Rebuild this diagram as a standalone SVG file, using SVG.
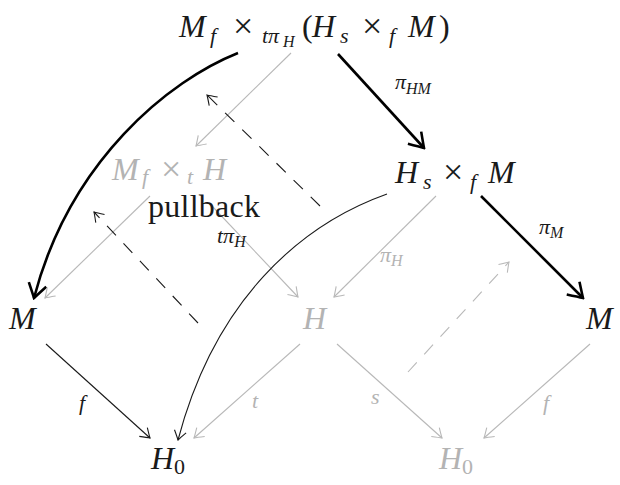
<svg xmlns="http://www.w3.org/2000/svg" width="620" height="485" viewBox="0 0 620 485">
<style>
text{font-family:'Liberation Serif','DejaVu Serif',serif;font-style:italic;font-size:32px;fill:#1a1a1a}
.r{font-style:normal}
.x{font-style:normal;font-size:36px}
.s{font-size:22px}
.ss{font-size:16px}
.lab{font-size:22px}
.g{fill:#b3b3b3}
.k{stroke:#1a1a1a;stroke-width:1.1;fill:none}
.kt{stroke:#000;stroke-width:2.6;fill:none}
.gr{stroke:#b8b8b8;stroke-width:1.1;fill:none}
.d{stroke-dasharray:13 11}
</style>
<defs>
<marker id="ak" markerUnits="userSpaceOnUse" viewBox="-12 -8 14 16" markerWidth="14" markerHeight="16" refX="0" refY="0" orient="auto">
<path d="M-9 -6 Q-2.5 -1.5 0 0 Q-2.5 1.5 -9 6" stroke="#1a1a1a" stroke-width="1.1" fill="none"/>
</marker>
<marker id="ag" markerUnits="userSpaceOnUse" viewBox="-12 -8 14 16" markerWidth="14" markerHeight="16" refX="0" refY="0" orient="auto">
<path d="M-9 -6 Q-2.5 -1.5 0 0 Q-2.5 1.5 -9 6" stroke="#b8b8b8" stroke-width="1.1" fill="none"/>
</marker>
<marker id="at" markerUnits="userSpaceOnUse" viewBox="-18 -12 20 24" markerWidth="20" markerHeight="24" refX="0" refY="0" orient="auto">
<path d="M-14 -9 Q-4 -2.5 0 0 Q-4 2.5 -14 9" stroke="#000" stroke-width="2.6" fill="none"/>
</marker>
</defs>

<g id="edges">
<path class="kt" d="M238 53 C170 80 70 160 34 298" marker-end="url(#at)"/>
<path class="kt" d="M338 54 L424 148" marker-end="url(#at)"/>
<path class="kt" d="M481 196 L583 298" marker-end="url(#at)"/>
<path class="gr" d="M291 53 L196 146" marker-end="url(#ag)"/>
<path class="gr" d="M150 196 L45 298" marker-end="url(#ag)"/>
<path class="gr" d="M212 206 L298 297" marker-end="url(#ag)"/>
<path class="gr" d="M436 196 L334 297" marker-end="url(#ag)"/>
<path class="k" d="M387 194 C300 225 215 300 178 440" marker-end="url(#ak)"/>
<path class="k" d="M46 344 L150 438" marker-end="url(#ak)"/>
<path class="gr" d="M300 344 L194 438" marker-end="url(#ag)"/>
<path class="gr" d="M337 344 L442 438" marker-end="url(#ag)"/>
<path class="gr" d="M590 344 L484 438" marker-end="url(#ag)"/>
<path class="k d" d="M320 206 L207 95" marker-end="url(#ak)"/>
<path class="k d" d="M198 323 L94 212" marker-end="url(#ak)"/>
<path class="gr d" d="M408 372 L509 262" marker-end="url(#ag)"/>
<text class="lab" x="395" y="89">π<tspan class="ss" dy="5">HM</tspan></text>
<text class="lab" x="539" y="234">π<tspan class="ss" dy="4">M</tspan></text>
<text class="lab g" x="380" y="262">π<tspan class="ss" dy="4">H</tspan></text>
<text class="lab" x="217" y="243">tπ<tspan class="ss" dy="4">H</tspan></text>
<text class="lab" x="79" y="410">f</text>
<text class="lab g" x="252" y="408">t</text>
<text class="lab g" x="371" y="404">s</text>
<text class="lab g" x="543" y="410">f</text>
</g>

<g id="n-top">
<text y="37"><tspan x="179">M</tspan><tspan class="s" x="210" y="43">f</tspan><tspan class="x" x="233" y="38">×</tspan><tspan class="s" x="262" y="43">tπ</tspan><tspan class="ss" x="283" y="47">H</tspan><tspan class="r" x="302" y="37">(</tspan><tspan x="312">H</tspan><tspan class="s" x="340" y="43">s</tspan><tspan class="x" x="362" y="38">×</tspan><tspan class="s" x="389" y="43">f</tspan><tspan x="408" y="37">M</tspan><tspan class="r" x="439">)</tspan></text>
</g>
<g id="n-pull">
<text class="g" y="180"><tspan x="112">M</tspan><tspan class="s" x="142" y="184">f</tspan><tspan class="x" x="161" y="181">×</tspan><tspan class="s" x="187" y="184">t</tspan><tspan x="203" y="180">H</tspan></text>
</g>
<g id="n-pullback-label">
<text class="r" x="148" y="217" textLength="112" font-size="30">pullback</text>
</g>
<g id="n-HsM">
<text y="183"><tspan x="395">H</tspan><tspan class="s" x="423" y="189">s</tspan><tspan class="x" x="443" y="184">×</tspan><tspan class="s" x="470" y="189">f</tspan><tspan x="488" y="183">M</tspan></text>
</g>
<g id="n-M1"><text x="9" y="329">M</text></g>
<g id="n-H"><text class="g" x="303" y="329">H</text></g>
<g id="n-M2"><text x="586" y="329">M</text></g>
<g id="n-H0a"><text x="151" y="469">H<tspan class="s r" dy="5">0</tspan></text></g>
<g id="n-H0b"><text class="g" x="439" y="469">H<tspan class="s r" dy="5">0</tspan></text></g>
</svg>
